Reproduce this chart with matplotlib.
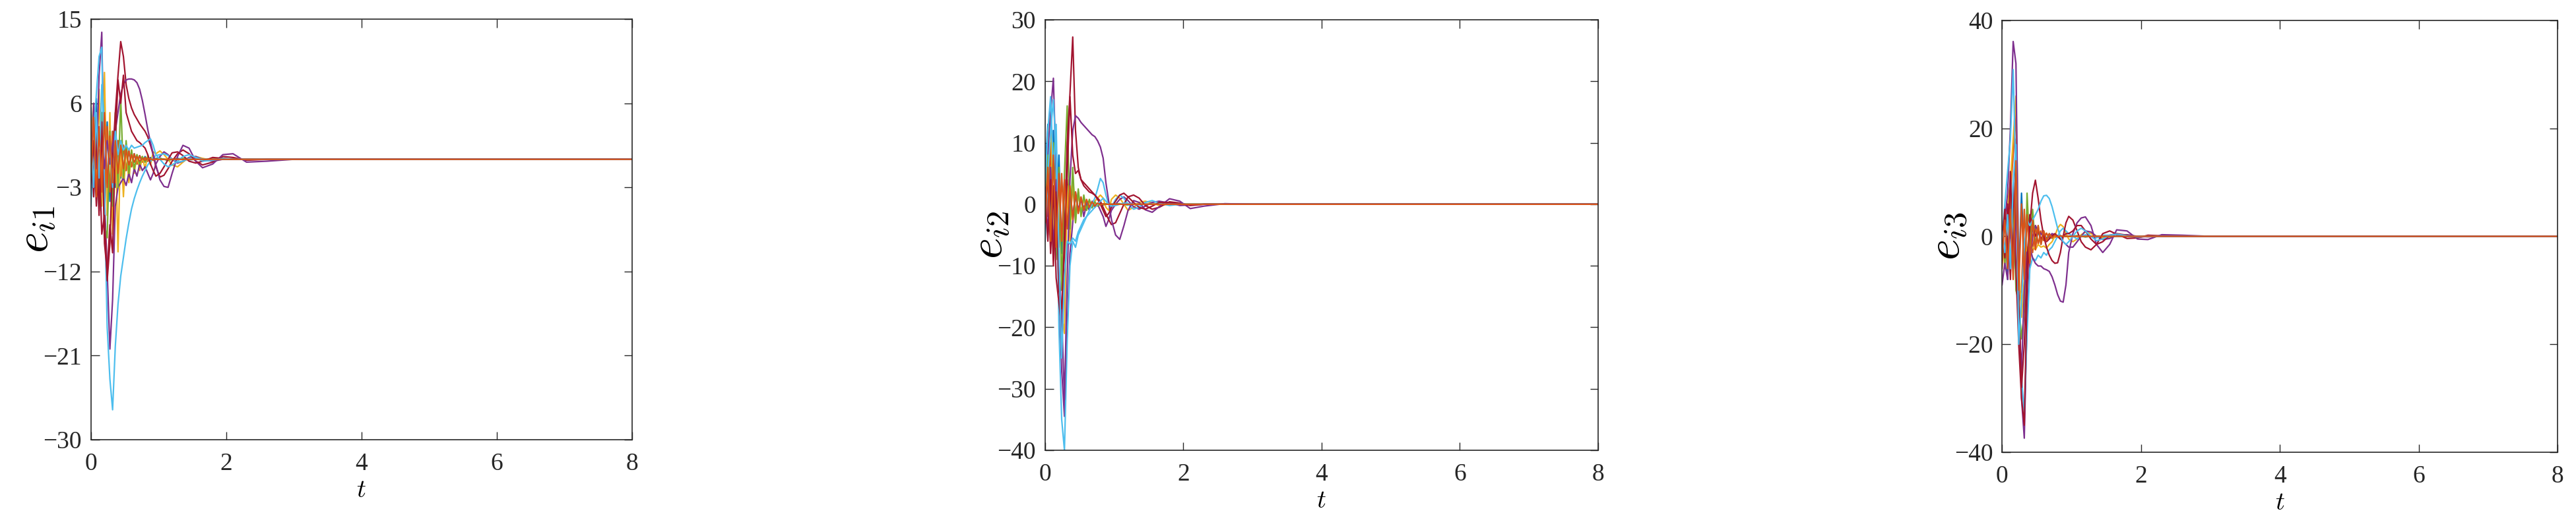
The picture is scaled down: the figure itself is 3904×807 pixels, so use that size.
import matplotlib
matplotlib.use("Agg")
import matplotlib.pyplot as plt

plt.rcParams['font.family'] = ['Liberation Serif', 'DejaVu Serif']
plt.rcParams['mathtext.fontset'] = 'cm'

# time samples (fast part, then slow tail)
t_fast = [0.00, 0.04, 0.08, 0.12, 0.16, 0.20, 0.24, 0.28, 0.32, 0.36, 0.40, 0.44, 0.48,
          0.52, 0.56, 0.60, 0.64, 0.68, 0.72, 0.76, 0.80, 0.84, 0.88, 0.92, 0.96]
t_slow = [1.02, 1.08, 1.14, 1.20, 1.28, 1.36, 1.45, 1.55, 1.65, 1.80, 1.95, 2.10, 2.30, 2.60, 3.00, 8.00]

# MATLAB colour order
c_blue = '#0072BD'
c_orange = '#D95319'
c_yellow = '#EDB120'
c_purple = '#7E2F8E'
c_green = '#77AC30'
c_cyan = '#4DBEEE'
c_red = '#A2142F'

# ---------- e_i1 ----------
e1_blue = [5.5, -4.0, 6.5, -5.5, 5.0, -6.0, 4.0, -4.5, 3.0, -3.0, 2.0, -2.0, 1.5, -1.2, 1.0, -0.8, 0.6, -0.5, 0.4, -0.3, 0.3, -0.2, 0.2, -0.1, 0.1,
           0.1, 0.0, -0.1, 0.0, 0.1, 0.0, -0.05, 0.0, 0.05, 0.0, 0.0, 0.0, 0.0, 0.0, 0.0, 0.0]
e1_orange = [4.0, -3.0, 5.0, -4.5, 4.5, -4.0, 3.5, -3.5, 3.0, -2.5, 2.0, -1.8, 1.5, -1.2, 1.0, -0.8, 0.6, -0.5, 0.4, -0.3, 0.2, -0.2, 0.1, -0.1, 0.05,
             0.05, 0.0, 0.0, 0.0, 0.0, 0.0, 0.0, 0.0, 0.0, 0.0, 0.0, 0.0, 0.0, 0.0, 0.0, 0.0]
e1_yellow = [2.0, 6.0, -3.0, 7.5, -5.0, 9.3, -6.0, 5.0, -8.0, 3.0, -9.9, 2.0, -4.0, 1.5, -2.5, 1.0, -1.5, 0.5, -1.2, 0.3, -1.0, 0.5, -0.6, 0.8, 0.6,
             0.9, 0.5, 0.0, -0.6, -0.8, -0.3, 0.2, 0.3, 0.1, -0.1, 0.0, 0.0, 0.0, 0.0, 0.0, 0.0]
e1_purple = [-2.0, 6.0, -1.0, 9.0, 13.6, -4.0, -12.0, -20.3, -15.0, -5.0, -3.0, -2.5, -2.0, -2.8, -1.5, -2.5, -1.0, -1.8, -0.5, -1.2, -0.8, -1.5, -2.2, -1.5, -0.5,
             0.3, 0.8, 0.5, 0.0, -0.4, -0.2, 0.2, 0.3, 0.0, -0.2, 0.0, 0.0, 0.0, 0.0, 0.0, 0.0]
e1_green = [1.0, -3.0, 4.0, -5.0, 5.0, -7.0, -8.4, 3.0, -5.0, 5.0, -3.0, 6.5, -2.0, 2.0, -1.5, 1.0, -1.0, 0.5, -0.5, 0.3, -0.3, 0.2, -0.2, 0.1, 0.0,
            0.1, 0.0, -0.1, 0.0, 0.0, 0.1, 0.0, 0.0, 0.0, 0.0, 0.0, 0.0, 0.0, 0.0, 0.0, 0.0]
e1_cyan = [-5.0, 3.0, 7.0, 11.0, 12.0, -4.0, -18.0, -23.5, -26.8, -20.0, -15.5, -12.5, -10.5, -8.5, -6.8, -5.3, -4.2, -3.3, -2.5, -1.8, -1.2, -0.6, -0.2, 0.2, 0.4,
           0.5, 0.6, 0.4, 0.0, -0.3, -0.2, 0.1, 0.2, 0.0, 0.0, 0.0, 0.0, 0.0, 0.0, 0.0, 0.0]
e1_red = [-3.0, 2.0, -5.0, 1.0, -8.0, -6.0, -13.0, -9.0, 0.0, 5.0, 9.0, 12.6, 11.0, 8.0, 6.5, 5.5, 4.8, 4.3, 3.8, 3.4, 3.0, 2.4, 1.5, 0.5, -0.8,
          -1.9, -1.7, -1.0, -0.2, 0.6, 1.0, 0.6, -0.2, -0.6, -0.3, 0.3, 0.2, -0.1, 0.0, 0.0, 0.0]
e1_purple2 = [1.0, -2.0, 3.0, -1.5, 2.5, -1.0, 2.0, -0.5, 1.5, 3.0, 5.0, 7.0, 8.0, 8.5, 8.6, 8.6, 8.5, 8.2, 7.5, 6.3, 4.8, 3.2, 1.8, 0.6, -0.6,
              -2.2, -2.9, -3.0, -1.5, 0.3, 1.5, 1.2, -0.2, -0.9, -0.5, 0.5, 0.6, -0.3, -0.2, 0.0, 0.0]
e1_red2 = [2.0, -4.0, 3.0, -6.0, 4.0, -9.0, -12.0, -7.0, -10.0, 2.0, 8.5, 6.0, 9.0, 5.0, 4.0, 3.0, 2.5, 2.0, 1.8, 1.5, 1.2, 0.5, -0.5, -1.2, -1.8,
           -1.5, -0.8, 0.0, 0.7, 0.8, 0.4, -0.2, -0.4, -0.2, 0.2, 0.1, 0.0, 0.0, 0.0, 0.0, 0.0]
e1_cyan2 = [2.0, -3.0, 5.0, -2.0, 8.0, 4.0, -2.0, 2.0, -3.0, 3.0, 0.5, 2.0, 1.0, 1.5, 1.0, 1.5, 1.2, 1.3, 1.4, 1.5, 1.8, 2.0, 2.2, 1.5, 0.5,
            0.0, -0.5, -0.8, -0.6, -0.2, 0.3, 0.5, 0.2, -0.2, -0.1, 0.1, 0.0, 0.0, 0.0, 0.0, 0.0]
e1_orange2 = [-2.0, 4.5, -4.0, 3.5, -3.5, 5.0, -3.0, 2.5, -2.5, 2.0, -1.5, 1.5, -1.0, 1.0, -0.6, 0.5, -0.3, 0.3, -0.2, 0.1, -0.1, 0.1, 0.0, 0.0, 0.0,
              0.0, 0.0, 0.0, 0.0, 0.0, 0.0, 0.0, 0.0, 0.0, 0.0, 0.0, 0.0, 0.0, 0.0, 0.0, 0.0]

# ---------- e_i2 ----------
e2_blue = [5.0, 13.0, -3.0, 12.0, -6.0, 8.0, -8.0, 4.0, -4.0, 2.0, -2.0, 1.5, -1.0, 0.8, -0.6, 0.4, -0.3, 0.2, -0.2, 0.1, -0.1, 0.0, 0.0, 0.0, 0.0,
           0.0, 0.1, 0.0, -0.1, 0.0, 0.0, 0.0, 0.0, 0.0, 0.0, 0.0, 0.0, 0.0, 0.0, 0.0, 0.0]
e2_orange = [8.0, -2.0, 10.0, -5.0, 7.0, -7.0, 5.0, -5.0, 4.0, -3.0, 3.0, -2.0, 2.0, -1.5, 1.0, -0.8, 0.6, -0.4, 0.3, -0.2, 0.1, -0.1, 0.0, 0.0, 0.0,
             0.0, 0.0, 0.0, 0.0, 0.0, 0.0, 0.0, 0.0, 0.0, 0.0, 0.0, 0.0, 0.0, 0.0, 0.0, 0.0]
e2_yellow = [2.0, 10.0, 15.0, -4.0, 8.0, -12.0, -18.0, -21.0, 3.0, -6.0, 5.0, -3.0, 2.0, -1.5, 1.0, -1.0, 0.5, -0.5, 0.5, 1.0, 1.5, 1.0, -0.5, -1.0, 0.8,
             1.5, 1.0, 0.0, -1.0, -0.5, 0.3, 0.5, 0.2, -0.2, 0.0, 0.0, 0.0, 0.0, 0.0, 0.0, 0.0]
e2_purple = [-4.0, 8.0, 15.0, 20.5, 5.0, -15.0, -27.0, -34.5, -20.0, -8.0, -3.0, 2.0, -1.0, 1.0, -2.0, 0.0, -1.0, 0.5, -0.5, 0.0, -1.0, -2.0, -3.6, -2.5, -1.0,
             0.0, 0.8, 1.2, 0.6, -0.4, -0.8, -0.3, 0.3, 0.5, 0.2, -0.2, -0.1, 0.0, 0.0, 0.0, 0.0]
e2_green = [-1.0, 8.0, -6.0, 10.0, -9.0, 6.0, -14.0, 5.0, 16.0, -4.0, 6.0, -3.0, 2.5, -2.0, 1.5, -1.0, 0.8, -0.6, 0.4, -0.3, 0.2, -0.1, 0.1, 0.0, 0.0,
            0.0, 0.1, 0.0, -0.1, 0.0, 0.0, 0.0, 0.0, 0.0, 0.0, 0.0, 0.0, 0.0, 0.0, 0.0, 0.0]
e2_cyan = [-6.0, 5.0, 12.0, 17.0, 8.0, -20.0, -35.0, -40.0, -22.0, -10.0, -6.0, -7.0, -5.0, -4.0, -3.0, -2.0, -1.0, 0.0, 1.0, 2.5, 4.2, 3.5, 1.5, 0.0, -0.5,
           0.8, 1.5, 1.0, 0.0, -0.8, -0.5, 0.3, 0.6, 0.2, -0.2, 0.0, 0.0, 0.0, 0.0, 0.0, 0.0]
e2_red = [-2.0, 5.0, -8.0, 3.0, -12.0, -16.0, -20.0, -5.0, 10.0, 18.0, 27.2, 12.0, 6.0, 4.0, 3.0, 2.5, 2.0, 1.8, 1.5, 1.0, 0.5, -0.5, -1.5, -2.5, -3.3,
          -3.0, -1.5, 0.0, 1.2, 1.5, 1.0, -0.2, -0.8, -0.5, 0.4, 0.2, -0.2, 0.0, 0.0, 0.0, 0.0]
e2_purple2 = [3.0, -5.0, 6.0, -8.0, 4.0, -10.0, -18.0, -31.8, -12.0, 4.0, 12.0, 14.4, 14.0, 13.3, 12.8, 12.3, 11.8, 11.3, 11.0, 10.3, 9.3, 7.5, 3.5, 0.5, -2.5,
              -5.0, -5.7, -3.5, -1.0, 0.6, 0.3, -0.9, -1.3, -0.4, 0.9, 0.5, -0.7, -0.3, 0.1, 0.0, 0.0]
e2_red2 = [1.0, -6.0, 4.0, -10.0, 2.0, -14.0, -17.0, -8.0, 5.0, 17.5, 8.0, 5.0, 5.5, 4.0, 3.5, 3.0, 2.5, 2.0, 1.5, 0.8, 0.0, -1.0, -2.0, -1.5, -0.5,
           0.5, 1.5, 1.8, 1.2, 0.3, -0.5, -0.8, -0.3, 0.3, 0.3, 0.0, -0.1, 0.0, 0.0, 0.0, 0.0]
e2_cyan2 = [3.0, 12.0, 17.5, 5.0, 13.0, -8.0, -25.0, -12.0, -6.0, -6.5, -5.5, -6.0, -4.5, -3.5, -2.5, -2.0, -1.5, -1.0, -0.5, 0.0, 0.5, 1.0, 0.5, 0.0, -0.3,
            -0.2, 0.0, 0.2, 0.1, 0.0, -0.1, 0.0, 0.0, 0.0, 0.0, 0.0, 0.0, 0.0, 0.0, 0.0, 0.0]
e2_orange2 = [-3.0, 6.0, -6.0, 8.0, -7.0, 5.0, -6.0, 4.0, -4.0, 3.0, -2.5, 2.0, -1.5, 1.2, -1.0, 0.8, -0.5, 0.4, -0.3, 0.2, -0.1, 0.1, 0.0, 0.0, 0.0,
              0.0, 0.0, 0.0, 0.0, 0.0, 0.0, 0.0, 0.0, 0.0, 0.0, 0.0, 0.0, 0.0, 0.0, 0.0, 0.0]

# ---------- e_i3 ----------
e3_blue = [-3.0, 5.0, -8.0, 10.0, -6.0, 18.0, -8.0, 8.0, -5.0, 4.0, -3.0, 2.0, -1.5, 1.0, -0.8, 0.6, -0.4, 0.3, -0.2, 0.1, -0.1, 0.0, 0.0, 0.0, 0.0,
           0.0, 0.1, 0.0, -0.1, 0.0, 0.0, 0.0, 0.0, 0.0, 0.0, 0.0, 0.0, 0.0, 0.0, 0.0, 0.0]
e3_orange = [-6.0, 4.0, -5.0, 8.0, 15.0, 23.0, -12.0, -10.0, 5.0, -6.0, 4.0, -3.0, 2.0, -1.5, 1.0, -0.8, 0.6, -0.4, 0.3, -0.2, 0.1, -0.1, 0.0, 0.0, 0.0,
             0.0, 0.0, 0.0, 0.0, 0.0, 0.0, 0.0, 0.0, 0.0, 0.0, 0.0, 0.0, 0.0, 0.0, 0.0, 0.0]
e3_yellow = [2.0, -6.0, 6.0, 10.0, 18.0, 26.0, -5.0, -15.0, -8.0, -2.0, -3.0, -2.0, -2.5, -1.5, -2.0, -1.8, -2.2, -1.5, -1.0, 0.0, 1.5, 2.2, 1.8, 0.5, -0.5,
             -1.0, -0.5, 0.3, 0.8, 0.5, 0.0, -0.3, -0.2, 0.1, 0.1, 0.0, 0.0, 0.0, 0.0, 0.0, 0.0]
e3_purple = [-2.0, 3.0, 8.0, 20.0, 36.1, 32.0, -10.0, -30.0, -37.4, -15.0, -5.0, 0.0, 2.0, 1.0, 0.5, 0.0, -0.5, 0.0, 0.5, 0.3, 0.0, -0.5, -1.0, -1.5, -2.0,
             -2.0, -1.0, 0.0, 1.0, 0.8, 0.0, -0.6, -0.4, 0.2, 0.3, 0.0, -0.1, 0.0, 0.0, 0.0, 0.0]
e3_green = [2.0, -5.0, 5.0, -7.0, 8.0, -10.0, -12.0, -19.0, -14.0, 8.0, -3.0, 5.0, -2.0, 2.0, -1.5, 1.0, -0.8, 0.5, -0.4, 0.3, -0.2, 0.1, 0.0, 0.0, 0.0,
            0.0, 0.1, 0.0, -0.1, 0.0, 0.0, 0.0, 0.0, 0.0, 0.0, 0.0, 0.0, 0.0, 0.0, 0.0, 0.0]
e3_cyan = [0.0, 6.0, 12.0, 18.0, 30.9, 10.0, -15.0, -26.0, -33.0, -18.0, -6.0, -4.0, -4.5, -3.5, -4.0, -3.0, -3.5, -2.5, -2.0, -1.0, 0.0, 1.0, 1.5, 1.0, 0.5,
           0.0, -0.5, 0.0, 0.3, 0.0, -0.3, 0.2, 0.2, 0.0, 0.0, 0.0, 0.0, 0.0, 0.0, 0.0, 0.0]
e3_red = [1.0, -4.0, 6.0, -8.0, 10.0, -6.0, -20.0, -30.0, -35.0, -10.0, 2.0, 8.0, 10.4, 7.0, 3.0, 0.0, -2.0, -3.5, -4.5, -5.0, -4.9, -3.0, 0.0, 2.5, 3.7,
          3.0, 1.0, -1.0, -2.0, -2.5, -1.5, 0.5, 1.0, 0.4, -0.4, -0.3, 0.2, 0.1, 0.0, 0.0, 0.0]
e3_purple2 = [-9.0, -5.0, -8.0, 2.0, -6.0, 5.0, -15.0, -25.0, -10.0, -3.0, -2.0, -4.0, -5.0, -5.5, -5.5, -6.0, -6.2, -6.5, -7.5, -9.0, -10.8, -12.0, -12.2, -9.0, -3.0,
              0.5, 2.5, 3.4, 3.6, 2.0, -1.5, -3.0, -1.5, 1.2, 1.0, -0.5, -0.6, 0.3, 0.2, 0.0, 0.0]
e3_red2 = [-1.0, 5.0, -3.0, 12.0, -5.0, 8.0, -12.0, -28.0, -20.0, -5.0, 4.0, 2.0, 0.0, 1.0, -0.5, 0.5, -1.0, -0.5, 0.0, 0.5, 0.0, -0.5, 0.0, 0.5, 0.5,
           1.0, 2.0, 2.0, 1.0, -0.5, -1.5, -1.0, 0.2, 0.5, 0.2, -0.2, 0.0, 0.0, 0.0, 0.0, 0.0]
e3_cyan2 = [1.0, -3.0, 4.0, -6.0, 10.0, 17.0, -20.0, -12.0, -2.0, 3.0, 2.0, 3.0, 4.0, 5.0, 6.5, 7.5, 7.6, 7.0, 5.5, 3.5, 1.5, 0.0, -1.0, -1.5, -1.0,
            0.0, 1.0, 1.5, 1.0, 0.0, -0.8, -0.5, 0.2, 0.4, 0.1, -0.1, 0.0, 0.0, 0.0, 0.0, 0.0]
e3_orange2 = [-4.0, 3.0, -6.0, 5.0, -8.0, 14.0, -10.0, 6.0, -8.0, 4.0, -5.0, 3.0, -2.5, 2.0, -1.5, 1.0, -0.8, 0.5, -0.3, 0.2, -0.1, 0.1, 0.0, 0.0, 0.0,
              0.0, 0.0, 0.0, 0.0, 0.0, 0.0, 0.0, 0.0, 0.0, 0.0, 0.0, 0.0, 0.0, 0.0, 0.0, 0.0]

e1_yticks = [-30, -21, -12, -3, 6, 15]
e2_yticks = [-40, -30, -20, -10, 0, 10, 20, 30]
e3_yticks = [-40, -20, 0, 20, 40]
x_ticks = [0, 2, 4, 6, 8]

t = t_fast + t_slow

panels = [
    ([0.0353, 0.1735, 0.2100, 0.7905], r'$e_{i1}$', (-30, 15), e1_yticks,
     [(e1_blue, c_blue), (e1_orange, c_orange), (e1_yellow, c_yellow), (e1_purple, c_purple),
      (e1_green, c_green), (e1_cyan, c_cyan), (e1_red, c_red), (e1_purple2, c_purple),
      (e1_red2, c_red), (e1_cyan2, c_cyan), (e1_orange2, c_orange)]),
    ([0.4056, 0.1537, 0.2146, 0.8091], r'$e_{i2}$', (-40, 30), e2_yticks,
     [(e2_blue, c_blue), (e2_orange, c_orange), (e2_yellow, c_yellow), (e2_purple, c_purple),
      (e2_green, c_green), (e2_cyan, c_cyan), (e2_red, c_red), (e2_purple2, c_purple),
      (e2_red2, c_red), (e2_cyan2, c_cyan), (e2_orange2, c_orange)]),
    ([0.7770, 0.1500, 0.2156, 0.8116], r'$e_{i3}$', (-40, 40), e3_yticks,
     [(e3_blue, c_blue), (e3_orange, c_orange), (e3_yellow, c_yellow), (e3_purple, c_purple),
      (e3_green, c_green), (e3_cyan, c_cyan), (e3_red, c_red), (e3_purple2, c_purple),
      (e3_red2, c_red), (e3_cyan2, c_cyan), (e3_orange2, c_orange)]),
]

fig = plt.figure(figsize=(39.05, 8.07), dpi=100)

for rect, lab, ylim, yticks, curves in panels:
    ax = fig.add_axes(rect)
    for vals, col in curves:
        ax.plot(t, vals, color=col, lw=1.6)
    ax.set_xlim(0, 8)
    ax.set_ylim(*ylim)
    ax.set_xticks(x_ticks)
    ax.set_yticks(yticks)
    ax.tick_params(direction='in', top=True, right=True, length=9, width=1.0,
                   labelsize=27, colors='#262626')
    ax.tick_params(axis='x', pad=14)
    ax.tick_params(axis='y', pad=10)
    for s in ax.spines.values():
        s.set_color('#262626')
        s.set_linewidth(1.2)
    ax.set_ylabel(lab, fontsize=50)
    # label coords: right edge of the rotated label
    w_px = rect[2] * 3905
    ax.yaxis.set_label_coords(-50 / w_px, 0.5)
    ax.set_xlabel(r'$t$', fontsize=28, labelpad=4)

fig.savefig('out.png', dpi=100)
